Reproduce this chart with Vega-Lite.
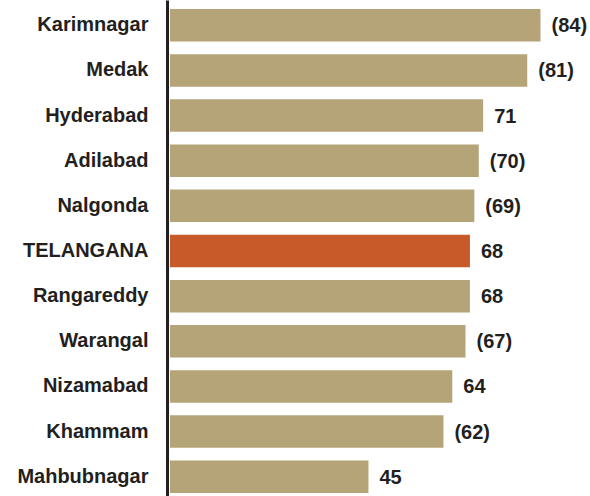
{
  "$schema": "https://vega.github.io/schema/vega-lite/v6.json",
  "width": 419,
  "height": 502,
  "autosize": {"type": "none"},
  "padding": {"left": 170, "top": 0, "right": 1, "bottom": 0},
  "background": "white",
  "config": {"view": {"stroke": null}},
  "data": {
    "values": [
      {"district": "Karimnagar", "value": 84, "label": "(84)", "state": false},
      {"district": "Medak", "value": 81, "label": "(81)", "state": false},
      {"district": "Hyderabad", "value": 71, "label": "71", "state": false},
      {"district": "Adilabad", "value": 70, "label": "(70)", "state": false},
      {"district": "Nalgonda", "value": 69, "label": "(69)", "state": false},
      {"district": "TELANGANA", "value": 68, "label": "68", "state": true},
      {"district": "Rangareddy", "value": 68, "label": "68", "state": false},
      {"district": "Warangal", "value": 67, "label": "(67)", "state": false},
      {"district": "Nizamabad", "value": 64, "label": "64", "state": false},
      {"district": "Khammam", "value": 62, "label": "(62)", "state": false},
      {"district": "Mahbubnagar", "value": 45, "label": "45", "state": false}
    ]
  },
  "encoding": {
    "y": {
      "field": "district",
      "type": "nominal",
      "sort": null,
      "scale": {"paddingInner": 0.28, "paddingOuter": 0.2},
      "axis": {
        "title": null,
        "ticks": false,
        "offset": 3,
        "domainColor": "#231f20",
        "domainWidth": 3,
        "labelFont": "Liberation Sans",
        "labelFontWeight": "bold",
        "labelFontSize": 20,
        "labelColor": "#231f20",
        "labelPadding": 19
      }
    },
    "x": {
      "field": "value",
      "type": "quantitative",
      "scale": {"domain": [0, 95]},
      "axis": null
    }
  },
  "layer": [
    {
      "mark": {"type": "bar"},
      "encoding": {
        "color": {
          "field": "state",
          "type": "nominal",
          "scale": {"domain": [false, true], "range": ["#b5a477", "#c75a28"]},
          "legend": null
        }
      }
    },
    {
      "mark": {
        "type": "text",
        "align": "left",
        "baseline": "middle",
        "dx": 11,
        "dy": 1,
        "font": "Liberation Sans",
        "fontWeight": "bold",
        "fontSize": 20,
        "color": "#231f20"
      },
      "encoding": {"text": {"field": "label"}}
    }
  ]
}
